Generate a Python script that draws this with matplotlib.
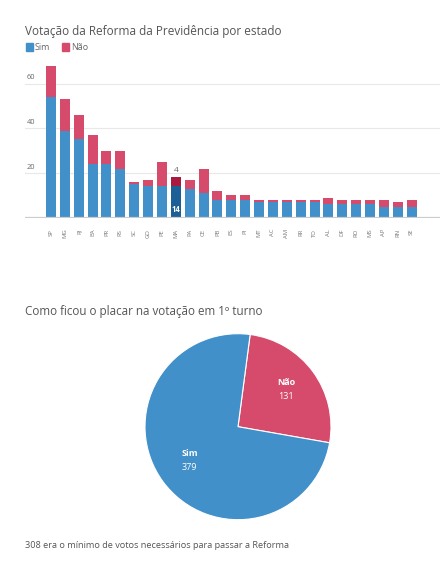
import matplotlib
matplotlib.use("Agg")
import matplotlib.pyplot as plt
import matplotlib.transforms as mtransforms
from matplotlib.patches import Rectangle
import math

plt.rcParams['font.family'] = ['Open Sans', 'DejaVu Sans']

states = ["SP", "MG", "RJ", "BA", "PR", "RS", "SC", "GO", "PE", "MA", "PA", "CE", "PB", "ES",
          "PI", "MT", "AC", "AM", "RR", "TO", "AL", "DF", "RO", "MS", "AP", "RN", "SE"]
sim = [54, 39, 35, 24, 24, 22, 15, 14, 14, 14, 13, 11, 8, 8, 8, 7, 7, 7, 7, 7, 6, 6, 6, 6, 5, 5, 5]
nao = [14, 14, 11, 13, 6, 8, 1, 3, 11, 4, 4, 11, 4, 2, 2, 1, 1, 1, 1, 1, 3, 2, 2, 2, 3, 2, 3]
highlight = "MA"
y_ticks = [0, 20, 40, 60]

pie_labels = ["Não", "Sim"]
pie_values = [131, 379]

title1 = "Votação da Reforma da Previdência por estado"
title2 = "Como ficou o placar na votação em 1º turno"
footnote = "308 era o mínimo de votos necessários para passar a Reforma"

BLUE = "#4190c9"
RED = "#d64b6b"
BLUE_D = "#1c5f97"
RED_D = "#a8183f"
TXT = "#555555"

W, H = 442, 564
fig = plt.figure(figsize=(W / 100, H / 100), dpi=100)
fig.patch.set_facecolor("white")

def fx(px):
    return px / W

def fy(py):
    return 1 - py / H

# ---------- bar chart ----------
base_px, top_px = 217.7, 56.8
left_px, right_px = 25, 440
ax = fig.add_axes([fx(left_px), fy(base_px), fx(right_px - left_px), (base_px - top_px) / H])
step = 13.87
ax.set_xlim((left_px - 51) / step, (right_px - 51) / step)
ax.set_ylim(0, 72)

xs = list(range(len(states)))
bc_sim = [BLUE_D if s == highlight else BLUE for s in states]
bc_nao = [RED_D if s == highlight else RED for s in states]
ax.bar(xs, sim, width=0.72, color=bc_sim, zorder=3, linewidth=0)
ax.bar(xs, nao, bottom=sim, width=0.72, color=bc_nao, zorder=3, linewidth=0)

for v in y_ticks[1:]:
    ax.axhline(v, color="#e8e8e8", linewidth=0.8, zorder=1)
ax.axhline(0, color="#cccccc", linewidth=1.6, zorder=4)

trans = mtransforms.blended_transform_factory(ax.transAxes, ax.transData)
for v in y_ticks[1:]:
    ax.annotate(str(v), xy=(0.005, v), xycoords=trans, xytext=(0, 1.8),
                textcoords="offset points", fontsize=5.3, color="#666666",
                ha="left", va="bottom")

for sp in ax.spines.values():
    sp.set_visible(False)
ax.set_yticks([])
ax.set_xticks(xs)
ax.set_xticklabels(states, rotation=90, fontsize=4.2, color="#777777")
ax.tick_params(axis="x", length=0, pad=8)
for lab in ax.get_xticklabels():
    lab.set_va("top")

i = states.index(highlight)
ax.text(i, sim[i] + nao[i] + 1.5, str(nao[i]), ha="center", va="bottom",
        fontsize=6, color="#666666", zorder=5)
ax.text(i, 1.6, str(sim[i]), ha="center", va="bottom", fontsize=5.6,
        color="white", fontweight="bold", zorder=5)

# titles and legend
fig.text(fx(25), fy(31), title1, fontsize=8.5, color=TXT, ha="left", va="center")
fig.patches.append(Rectangle((fx(26), fy(50.5)), fx(7), 7 / H, color=BLUE, transform=fig.transFigure))
fig.text(fx(35), fy(47.5), "Sim", fontsize=6.5, color="#666666", ha="left", va="center")
fig.patches.append(Rectangle((fx(62), fy(50.5)), fx(7), 7 / H, color=RED, transform=fig.transFigure))
fig.text(fx(71), fy(47.5), "Não", fontsize=6.5, color="#666666", ha="left", va="center")

# ---------- pie ----------
cx, cy, r = 238, 426.7, 93
pax = fig.add_axes([fx(cx - r), fy(cy + r), fx(2 * r), 2 * r / H])
wedges, _ = pax.pie(pie_values, colors=[RED, BLUE], startangle=90 - 7.5, counterclock=False,
                    radius=1, wedgeprops=dict(edgecolor="white", linewidth=0.8))
pax.set_xlim(-1, 1)
pax.set_ylim(-1, 1)
pax.set_aspect("auto")
pax.axis("off")

for w, lab, val in zip(wedges, pie_labels, pie_values):
    mid = math.radians((w.theta1 + w.theta2) / 2)
    x = 0.645 * math.cos(mid)
    y = 0.645 * math.sin(mid)
    pax.text(x, y + 0.05, lab, ha="center", va="bottom", fontsize=6.5,
             color="white", fontweight="bold")
    pax.text(x, y - 0.01, str(val), ha="center", va="top", fontsize=6.5, color="white")

fig.text(fx(25), fy(311), title2, fontsize=8.4, color=TXT, ha="left", va="center")
fig.text(fx(25), fy(545), footnote, fontsize=6.6, color=TXT, ha="left", va="center")

fig.savefig("out.png", dpi=100, facecolor="white")
